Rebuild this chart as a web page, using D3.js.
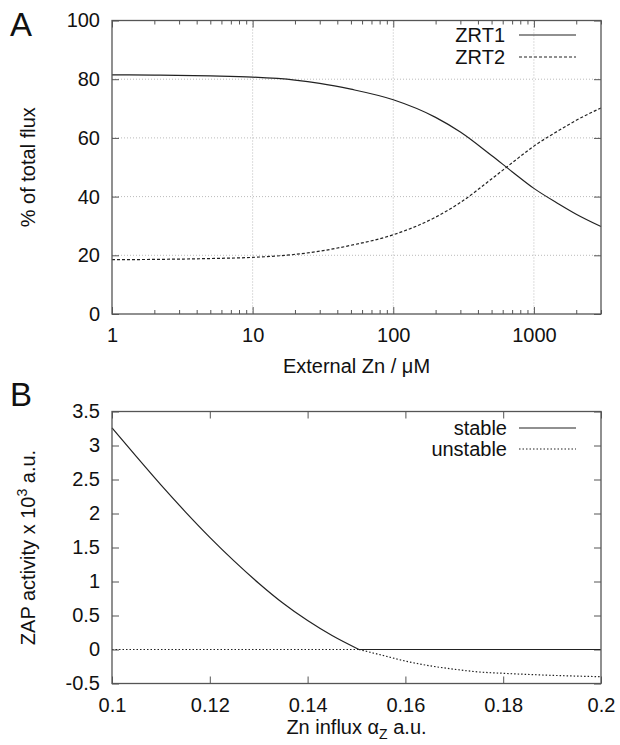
<!DOCTYPE html>
<html>
<head>
<meta charset="utf-8">
<script src="https://cdn.jsdelivr.net/npm/d3@7"></script>
<style>
  body { margin: 0; background: #fff; }
  svg { display: block; font-family: "Liberation Sans", Arial, sans-serif; }
</style>
</head>
<body>
<div id="chart"></div>
<script>
// Panel A data: flux share vs external Zn
var zn = [1, 2, 5, 10, 20, 30, 50, 100, 200, 300, 500, 700, 1000, 1500, 2000, 3000];
var zrt1 = [81.5, 81.4, 81.1, 80.7, 79.7, 78.6, 76.6, 73.0, 67.0, 62.0, 54.0, 48.5, 42.8, 37.5, 34.0, 29.8];
var zrt2 = [18.5, 18.6, 18.9, 19.3, 20.3, 21.4, 23.4, 27.0, 33.0, 38.0, 46.0, 51.5, 57.2, 62.5, 66.0, 70.2];
var aXTicks = [1, 10, 100, 1000];
var aYTicks = [0, 20, 40, 60, 80, 100];

// Panel B data: ZAP activity vs Zn influx
var stableX = [0.1, 0.105, 0.11, 0.115, 0.12, 0.125, 0.13, 0.135, 0.14, 0.145, 0.1505, 0.16, 0.17, 0.18, 0.19, 0.2];
var stableY = [3.26, 2.835, 2.42, 2.025, 1.65, 1.30, 0.975, 0.68, 0.425, 0.205, 0, 0, 0, 0, 0, 0];
var unstableX = [0.1, 0.1505, 0.155, 0.16, 0.165, 0.17, 0.175, 0.18, 0.19, 0.2];
var unstableY = [0, 0, -0.08, -0.17, -0.24, -0.29, -0.33, -0.35, -0.38, -0.40];
var bXTicks = [0.1, 0.12, 0.14, 0.16, 0.18, 0.2];
var bYTicks = [-0.5, 0, 0.5, 1, 1.5, 2, 2.5, 3, 3.5];

var svg = d3.select("#chart").append("svg")
    .attr("width", 620)
    .attr("height", 745);

var frameColor = "#555";
var lineColor = "#222";
var fontSize = 20;

function styleAxis(g) {
    g.select(".domain").remove();
    g.selectAll("line").attr("stroke", frameColor).attr("stroke-width", 1);
    g.selectAll("text").attr("font-size", fontSize).attr("fill", "#111")
        .attr("font-family", "Liberation Sans, Arial, sans-serif");
}

// ---------- Panel A ----------
var a = { left: 112, right: 601, top: 20.5, bottom: 314 };

var xA = d3.scaleLog().domain([1, 3000]).range([a.left, a.right]);
var yA = d3.scaleLinear().domain([0, 100]).range([a.bottom, a.top]);

var minorA = [];
[1, 10, 100, 1000].forEach(function(d) {
    for (var k = 2; k <= 9; k++) {
        if (d * k <= 3000) minorA.push(d * k);
    }
});

// grid
var gridA = svg.append("g");
gridA.selectAll(".gx").data(aXTicks.slice(1)).enter().append("line")
    .attr("x1", d => xA(d)).attr("x2", d => xA(d))
    .attr("y1", a.top).attr("y2", a.bottom)
    .attr("stroke", "#bbb").attr("stroke-width", 1).attr("stroke-dasharray", "1,2");
gridA.selectAll(".gy").data(aYTicks.slice(1, -1)).enter().append("line")
    .attr("x1", a.left).attr("x2", a.right)
    .attr("y1", d => yA(d)).attr("y2", d => yA(d))
    .attr("stroke", "#bbb").attr("stroke-width", 1).attr("stroke-dasharray", "1,2");

// axes
svg.append("g").attr("transform", `translate(0,${a.bottom})`)
    .call(d3.axisBottom(xA).tickValues(aXTicks).tickFormat(d3.format("d")).tickSizeInner(-7).tickSizeOuter(0).tickPadding(14))
    .call(styleAxis);
svg.append("g").attr("transform", `translate(0,${a.bottom})`)
    .call(d3.axisBottom(xA).tickValues(minorA).tickFormat("").tickSizeInner(-4).tickSizeOuter(0))
    .call(styleAxis);
svg.append("g").attr("transform", `translate(0,${a.top})`)
    .call(d3.axisTop(xA).tickValues(aXTicks).tickFormat("").tickSizeInner(-7).tickSizeOuter(0))
    .call(styleAxis);
svg.append("g").attr("transform", `translate(0,${a.top})`)
    .call(d3.axisTop(xA).tickValues(minorA).tickFormat("").tickSizeInner(-4).tickSizeOuter(0))
    .call(styleAxis);
svg.append("g").attr("transform", `translate(${a.left},0)`)
    .call(d3.axisLeft(yA).tickValues(aYTicks).tickSizeInner(-7).tickSizeOuter(0).tickPadding(12))
    .call(styleAxis);
svg.append("g").attr("transform", `translate(${a.right},0)`)
    .call(d3.axisRight(yA).tickValues(aYTicks).tickFormat("").tickSizeInner(-7).tickSizeOuter(0))
    .call(styleAxis);

// lines
var lineA = d3.line().x(d => xA(d[0])).y(d => yA(d[1])).curve(d3.curveMonotoneX);
svg.append("path").datum(d3.zip(zn, zrt1)).attr("d", lineA)
    .attr("fill", "none").attr("stroke", lineColor).attr("stroke-width", 1.2);
svg.append("path").datum(d3.zip(zn, zrt2)).attr("d", lineA)
    .attr("fill", "none").attr("stroke", lineColor).attr("stroke-width", 1.2)
    .attr("stroke-dasharray", "3,2");

// frame
svg.append("rect").attr("x", a.left).attr("y", a.top)
    .attr("width", a.right - a.left).attr("height", a.bottom - a.top)
    .attr("fill", "none").attr("stroke", frameColor).attr("stroke-width", 1.3);

// legend A
var legA = [{ name: "ZRT1", dash: null, y: 42 }, { name: "ZRT2", dash: "3,2", y: 64 }];
legA.forEach(function(d) {
    svg.append("text").attr("x", 505).attr("y", d.y).attr("text-anchor", "end")
        .attr("font-size", fontSize).attr("fill", "#111").text(d.name);
    svg.append("line").attr("x1", 519).attr("x2", 576).attr("y1", d.y - 7).attr("y2", d.y - 7)
        .attr("stroke", lineColor).attr("stroke-width", 1.2)
        .attr("stroke-dasharray", d.dash);
});

// labels A
svg.append("text").attr("x", 10).attr("y", 36).attr("font-size", 33).attr("fill", "#111").text("A");
svg.append("text")
    .attr("transform", `translate(35, ${(a.top + a.bottom) / 2}) rotate(-90)`)
    .attr("text-anchor", "middle").attr("font-size", fontSize).attr("fill", "#111")
    .text("% of total flux");
svg.append("text").attr("x", (a.left + a.right) / 2).attr("y", 373)
    .attr("text-anchor", "middle").attr("font-size", fontSize).attr("fill", "#111")
    .text("External Zn / \u03BCM");

// ---------- Panel B ----------
var b = { left: 112, right: 601, top: 411.5, bottom: 683.5 };

var xB = d3.scaleLinear().domain([0.1, 0.2]).range([b.left, b.right]);
var yB = d3.scaleLinear().domain([-0.5, 3.5]).range([b.bottom, b.top]);

svg.append("g").attr("transform", `translate(0,${b.bottom})`)
    .call(d3.axisBottom(xB).tickValues(bXTicks).tickFormat(d => +d.toFixed(2)).tickSizeInner(-7).tickSizeOuter(0).tickPadding(14))
    .call(styleAxis);
svg.append("g").attr("transform", `translate(0,${b.top})`)
    .call(d3.axisTop(xB).tickValues(bXTicks).tickFormat("").tickSizeInner(-7).tickSizeOuter(0))
    .call(styleAxis);
svg.append("g").attr("transform", `translate(${b.left},0)`)
    .call(d3.axisLeft(yB).tickValues(bYTicks).tickFormat(d => d).tickSizeInner(-7).tickSizeOuter(0).tickPadding(12))
    .call(styleAxis);
svg.append("g").attr("transform", `translate(${b.right},0)`)
    .call(d3.axisRight(yB).tickValues(bYTicks).tickFormat("").tickSizeInner(-7).tickSizeOuter(0))
    .call(styleAxis);

var lineB = d3.line().x(d => xB(d[0])).y(d => yB(d[1])).curve(d3.curveMonotoneX);

// unstable branch: flat part and descending part drawn separately so the corner stays sharp
var unstablePts = d3.zip(unstableX, unstableY);
[unstablePts.slice(0, 2), unstablePts.slice(1)].forEach(function(seg) {
    svg.append("path").datum(seg).attr("d", lineB)
        .attr("fill", "none").attr("stroke", lineColor).attr("stroke-width", 1.2)
        .attr("stroke-dasharray", "1.5,2");
});

// stable branch: curve down to the bifurcation, then flat at zero
var stablePts = d3.zip(stableX, stableY);
var kink = stableY.indexOf(0);
[stablePts.slice(0, kink + 1), stablePts.slice(kink)].forEach(function(seg) {
    svg.append("path").datum(seg).attr("d", lineB)
        .attr("fill", "none").attr("stroke", lineColor).attr("stroke-width", 1.2);
});

svg.append("rect").attr("x", b.left).attr("y", b.top)
    .attr("width", b.right - b.left).attr("height", b.bottom - b.top)
    .attr("fill", "none").attr("stroke", frameColor).attr("stroke-width", 1.3);

// legend B
var legB = [{ name: "stable", dash: null, y: 435 }, { name: "unstable", dash: "1.5,2", y: 456 }];
legB.forEach(function(d) {
    svg.append("text").attr("x", 507).attr("y", d.y).attr("text-anchor", "end")
        .attr("font-size", fontSize).attr("fill", "#111").text(d.name);
    svg.append("line").attr("x1", 519).attr("x2", 576).attr("y1", d.y - 7).attr("y2", d.y - 7)
        .attr("stroke", lineColor).attr("stroke-width", 1.2)
        .attr("stroke-dasharray", d.dash);
});

// labels B
svg.append("text").attr("x", 10).attr("y", 406).attr("font-size", 33).attr("fill", "#111").text("B");

var yLabB = svg.append("text")
    .attr("transform", `translate(35, ${(b.top + b.bottom) / 2}) rotate(-90)`)
    .attr("text-anchor", "middle").attr("font-size", fontSize).attr("fill", "#111");
yLabB.append("tspan").text("ZAP activity x 10");
yLabB.append("tspan").attr("dy", -8).attr("font-size", 14).text("3");
yLabB.append("tspan").attr("dy", 8).text(" a.u.");

var xLabB = svg.append("text").attr("x", (b.left + b.right) / 2).attr("y", 734)
    .attr("text-anchor", "middle").attr("font-size", fontSize).attr("fill", "#111");
xLabB.append("tspan").text("Zn influx \u03B1");
xLabB.append("tspan").attr("dy", 5).attr("font-size", 14).text("Z");
xLabB.append("tspan").attr("dy", -5).text(" a.u.");
</script>
</body>
</html>
